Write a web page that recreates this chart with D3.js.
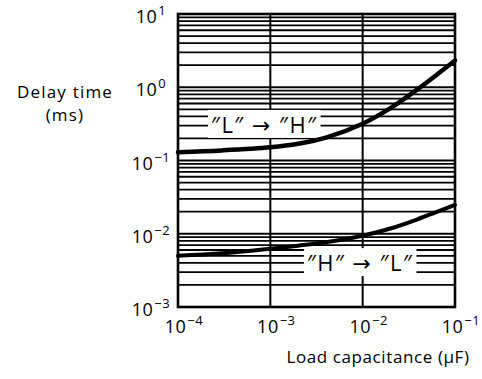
<!DOCTYPE html>
<html><head><meta charset="utf-8">
<script src="https://cdn.jsdelivr.net/npm/d3@7"></script>
<style>body{margin:0;background:#fff}text{font-family:"Open Sans","DejaVu Sans",sans-serif;fill:#000}</style>
</head><body><svg id="c" width="482" height="379"></svg>
<script>
// Data
const capacitance = [1e-4, 3e-4, 1e-3, 2e-3, 4e-3, 1e-2, 2e-2, 4e-2, 1e-1];   // µF
const delayLH     = [0.13, 0.1374, 0.1514, 0.169, 0.205, 0.318, 0.518, 0.953, 2.32]; // ms
const delayHL     = [0.005, 0.0054, 0.00624, 0.00687, 0.00767, 0.0094, 0.0118, 0.0159, 0.0247]; // ms
const xTicks   = [1e-4, 1e-3, 1e-2, 1e-1];
const xTickExp = ["\u22124", "\u22123", "\u22122", "\u22121"];
const yTicks   = [10, 1, 0.1, 0.01, 0.001];
const yTickExp = ["1", "0", "\u22121", "\u22122", "\u22123"];
const seriesNames = ["\u2033L\u2033 \u2192 \u2033H\u2033", "\u2033H\u2033 \u2192 \u2033L\u2033"];
const yTitle = ["Delay time", "(ms)"];
const xTitle = "Load capacitance (\u03BCF)";

const svg = d3.select("#c");
const W = 482, H = 379;
const m = {left: 178, right: 27, top: 14, bottom: 72};
const x = d3.scaleLog().domain([1e-4, 1e-1]).range([m.left, W - m.right]);
const y = d3.scaleLog().domain([1e-3, 10]).range([H - m.bottom, m.top]);

// horizontal grid (log minor + major)
const gridG = svg.append("g");
gridG.selectAll("line.h").data(y.ticks()).join("line")
  .attr("x1", x.range()[0]).attr("x2", x.range()[1])
  .attr("y1", d => y(d)).attr("y2", d => y(d))
  .attr("stroke", "#000").attr("stroke-width", 1.8);
// vertical grid (decades only)
gridG.selectAll("line.v").data(xTicks).join("line")
  .attr("x1", d => x(d)).attr("x2", d => x(d))
  .attr("y1", y.range()[0]).attr("y2", y.range()[1])
  .attr("stroke", "#000").attr("stroke-width", 2);

// series labels with white masks
const labelPos = [[8.6e-4, 0.316], [9.4e-3, 0.0041]];
const labG = svg.append("g");
seriesNames.forEach((s, i) => {
  const g = labG.append("g");
  const r = g.append("rect").attr("fill", "#fff");
  const t = g.append("text").text(s)
    .attr("x", x(labelPos[i][0])).attr("y", y(labelPos[i][1]))
    .attr("text-anchor", "middle").attr("dominant-baseline", "central")
    .attr("font-size", 22).attr("letter-spacing", 1.5);
  const b = t.node().getBBox();
  r.attr("x", b.x - 3).attr("y", b.y + 1).attr("width", b.width + 6).attr("height", b.height - 2);
});

// frame
svg.append("rect")
  .attr("x", x.range()[0]).attr("y", y.range()[1])
  .attr("width", x.range()[1] - x.range()[0]).attr("height", y.range()[0] - y.range()[1])
  .attr("fill", "none").attr("stroke", "#000").attr("stroke-width", 2.6);

// curves
const line = d3.line().x(d => x(d[0])).y(d => y(d[1])).curve(d3.curveCatmullRom.alpha(0.5));
[[delayLH, 4.5], [delayHL, 4]].forEach(([vals, w]) => {
  svg.append("path").datum(capacitance.map((c, i) => [c, vals[i]]))
    .attr("d", line).attr("fill", "none").attr("stroke", "#000")
    .attr("stroke-width", w).attr("stroke-linecap", "round");
});

// y tick labels
const yAx = svg.append("g");
yTicks.forEach((v, i) => {
  const t = yAx.append("text").attr("x", 151).attr("y", y(v) + 9)
    .attr("text-anchor", "middle").attr("font-size", 18).attr("letter-spacing", 0.5);
  t.append("tspan").text("10");
  t.append("tspan").text(yTickExp[i]).attr("font-size", 13).attr("dx", 1).attr("dy", -8);
});
// x tick labels
const xAx = svg.append("g");
xTicks.forEach((v, i) => {
  const t = xAx.append("text").attr("x", x(v) + 6).attr("y", y.range()[0] + 26)
    .attr("text-anchor", "middle").attr("font-size", 18).attr("letter-spacing", 0.5);
  t.append("tspan").text("10");
  t.append("tspan").text(xTickExp[i]).attr("font-size", 13).attr("dx", 1).attr("dy", -8);
});

// titles
svg.append("text").attr("x", 65).attr("y", 98).attr("text-anchor", "middle")
  .attr("font-size", 17).attr("letter-spacing", 1.2).text(yTitle[0]);
svg.append("text").attr("x", 65).attr("y", 121).attr("text-anchor", "middle")
  .attr("font-size", 17).attr("letter-spacing", 1.2).text(yTitle[1]);
svg.append("text").attr("x", 378).attr("y", 363).attr("text-anchor", "middle")
  .attr("font-size", 17).attr("letter-spacing", 0.6).text(xTitle);
</script></body></html>
